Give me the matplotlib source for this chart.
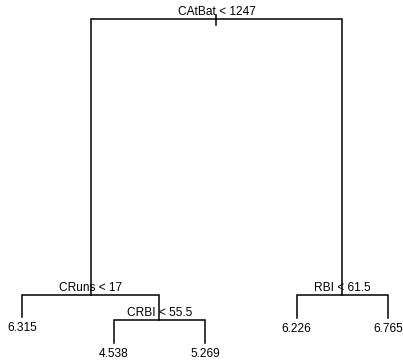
import matplotlib
matplotlib.use("Agg")
import matplotlib.pyplot as plt

# regression tree: node id -> split label / leaf value, heights measured down from the top
node_ids = [1, 2, 4, 5, 10, 11, 3, 6, 7]
node_labels = ["CAtBat < 1247", "CRuns < 17", "6.315", "CRBI < 55.5",
               "4.538", "5.269", "RBI < 61.5", "6.226", "6.765"]
node_depth = [19, 295, 317, 320, 343, 343, 295, 318, 318]
leaf_order = [4, 10, 11, 6, 7]

depth = dict(zip(node_ids, node_depth))
label = dict(zip(node_ids, node_labels))

# leaves get 1..n, internal nodes sit midway between their children
xpos = {n: i + 1 for i, n in enumerate(leaf_order)}
def place(n):
    if n in xpos:
        return xpos[n]
    xpos[n] = (place(2 * n) + place(2 * n + 1)) / 2
    return xpos[n]
place(1)

W, H = 403, 361
fig = plt.figure(figsize=(W / 100, H / 100), dpi=100)
ax = fig.add_axes([0, 0, 1, 1])
step = 91.5
ax.set_xlim(1 - 22 / step, 1 + (W - 22) / step)
ax.set_ylim(H, 0)
ax.axis("off")

lw = 1.1
font = dict(family="Liberation Sans", fontsize=8.6, color="black")

# root stub
ax.plot([xpos[1], xpos[1]], [depth[1] - 4, depth[1] + 6], color="black", lw=lw)

for n in node_ids:
    if n in leaf_order:
        ax.text(xpos[n], depth[n] + 5, label[n], ha="center", va="top", **font)
        continue
    l, r = 2 * n, 2 * n + 1
    y = depth[n]
    ax.plot([xpos[l], xpos[l], xpos[r], xpos[r]], [depth[l], y, y, depth[r]],
            color="black", lw=lw, solid_joinstyle="miter")
    ax.text(xpos[n], y - 1, label[n], ha="center", va="bottom", **font)

fig.savefig("out.png", dpi=100)
